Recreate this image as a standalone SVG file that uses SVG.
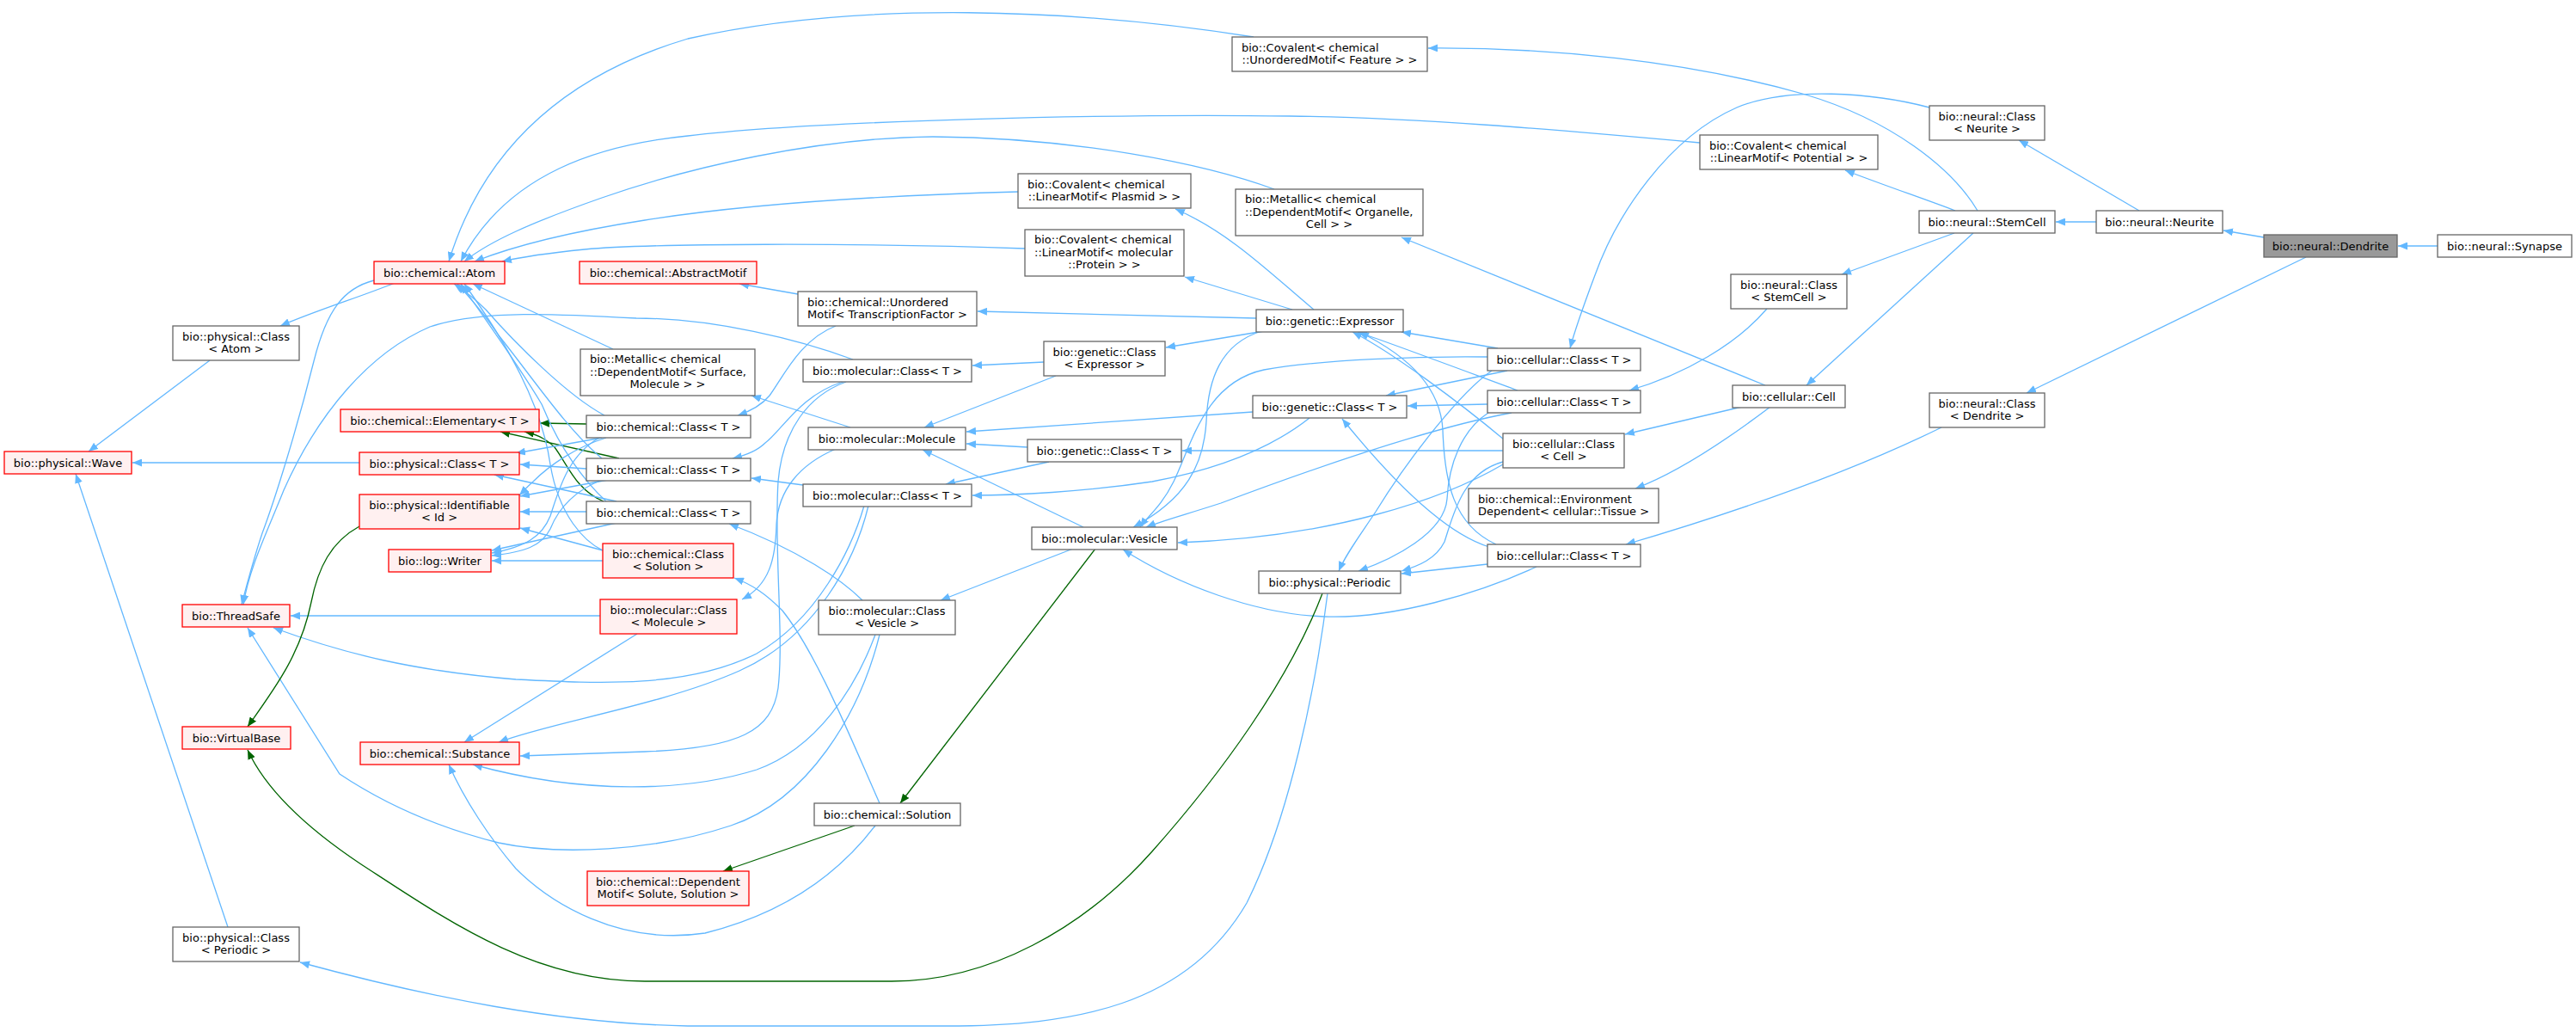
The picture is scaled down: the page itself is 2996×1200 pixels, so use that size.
<svg xmlns="http://www.w3.org/2000/svg" width="2996" height="1200" viewBox="0 0 2996 1200">
<style>
rect{stroke-width:1.3}
.n{fill:#ffffff;stroke:#666666}
.r{fill:#fff0f0;stroke:#ff0000}
.h{fill:#999999;stroke:#666666}
text{font-family:"DejaVu Sans","Liberation Sans",sans-serif;font-size:13px;fill:#000000;text-anchor:middle}
text.l{text-anchor:start}
.e{fill:none;stroke:#63b8ff;stroke-width:1.3;marker-end:url(#ab)}
.g{fill:none;stroke:#006400;stroke-width:1.3;marker-end:url(#ag)}
</style>
<defs>
<marker id="ab" viewBox="0 0 11 9" refX="11" refY="4.5" markerWidth="11" markerHeight="9" orient="auto" markerUnits="userSpaceOnUse"><path d="M0,0L11,4.5L0,9z" fill="#63b8ff"/></marker>
<marker id="ag" viewBox="0 0 11 9" refX="11" refY="4.5" markerWidth="11" markerHeight="9" orient="auto" markerUnits="userSpaceOnUse"><path d="M0,0L11,4.5L0,9z" fill="#006400"/></marker>
</defs>
<rect x="0" y="0" width="2996" height="1200" fill="#ffffff"/>
<g id="edges">
<path class="e" d="M2835,286L2789,286"/>
<path class="e" d="M2633,276L2586,268"/>
<path class="e" d="M2682,299L2357,457"/>
<path class="e" d="M2438,258L2391,258"/>
<path class="e" d="M2488,245L2348,163"/>
<path class="e" d="M2274,245C2240,232 2190,215 2146,198"/>
<path class="e" d="M2300,245C2270,195 2200,140 2100,110C1960,70 1800,55 1661,56"/>
<path class="e" d="M2273,271L2142,319"/>
<path class="e" d="M2295,271L2101,448"/>
<path class="e" d="M2244,125C2180,108 2080,100 2020,125C1940,160 1880,250 1855,320C1840,360 1830,390 1826,405"/>
<path class="e" d="M2055,359C2020,400 1960,435 1895,454"/>
<path class="e" d="M2258,497C2150,550 2010,598 1891,633"/>
<path class="e" d="M2053,448L1630,276"/>
<path class="e" d="M2026,473L1890,505"/>
<path class="e" d="M2059,473C2010,510 1950,550 1902,568"/>
<path class="e" d="M1977,166C1800,150 1650,137 1500,135C1300,132 950,140 800,158C700,168 590,200 536,304"/>
<path class="e" d="M1458,43C1250,10 1000,0 800,45C650,90 560,180 522,304"/>
<path class="e" d="M1482,220C1400,190 1250,160 1085,159C950,160 800,195 700,230C620,258 570,280 540,304"/>
<path class="e" d="M1184,223C1000,228 850,240 750,256C660,270 600,285 552,304"/>
<path class="e" d="M1192,289C1000,282 750,283 680,290C640,294 610,298 584,304"/>
<path class="e" d="M1742,405L1630,386"/>
<path class="e" d="M1730,415C1650,414 1540,418 1470,430C1400,445 1385,520 1365,560C1350,590 1335,600 1326,613"/>
<path class="e" d="M1753,431L1612,460"/>
<path class="e" d="M1735,431C1700,455 1640,530 1600,595C1580,625 1565,645 1557,664"/>
<path class="e" d="M1765,454C1700,430 1620,400 1579,386"/>
<path class="e" d="M1758,480C1650,500 1500,555 1420,585C1380,598 1350,606 1333,613"/>
<path class="e" d="M1730,470L1637,472"/>
<path class="e" d="M1731,480C1700,500 1685,540 1683,580C1680,620 1620,650 1580,664"/>
<path class="e" d="M1749,511C1700,470 1620,410 1573,386"/>
<path class="e" d="M1748,540C1680,580 1550,625 1370,631"/>
<path class="e" d="M1748,524L1375,524"/>
<path class="e" d="M1748,537C1700,550 1690,600 1680,630C1670,650 1650,658 1630,664"/>
<path class="e" d="M1740,633C1690,610 1680,560 1678,500C1675,440 1620,405 1581,386"/>
<path class="e" d="M1787,659C1720,690 1620,720 1540,717C1460,714 1370,680 1306,639"/>
<path class="e" d="M1732,636C1680,620 1620,560 1561,487"/>
<path class="e" d="M1730,656L1630,667"/>
<path class="e" d="M1461,370L1137,362"/>
<path class="e" d="M1470,385L1356,404"/>
<path class="e" d="M1467,385C1420,400 1405,440 1403,490C1400,540 1380,580 1318,613"/>
<path class="e" d="M1528,360C1480,320 1430,270 1367,243"/>
<path class="e" d="M1503,360L1378,322"/>
<path class="e" d="M1457,479L1124,502"/>
<path class="e" d="M1523,486C1480,520 1420,545 1340,560C1260,572 1180,576 1131,576"/>
<path class="g" d="M1538,690C1500,790 1420,900 1340,990C1260,1080 1150,1141 1037,1141L750,1141C620,1141 520,1070 420,1005C360,965 310,920 288,872"/>
<path class="e" d="M1544,690C1530,800 1500,950 1450,1050C1380,1170 1250,1193 1100,1193L800,1193C650,1190 500,1160 349,1119"/>
<path class="e" d="M1214,421L1131,425"/>
<path class="e" d="M1228,437L1075,497"/>
<path class="e" d="M1195,520L1124,516"/>
<path class="e" d="M1220,537L1100,563"/>
<path class="e" d="M1260,613L1073,523"/>
<path class="e" d="M1248,638L1094,698"/>
<path class="g" d="M1274,638L1047,934"/>
<path class="e" d="M928,342L860,330"/>
<path class="e" d="M972,379C930,395 910,440 895,460C885,472 870,479 858,483"/>
<path class="e" d="M992,418C930,395 830,370 740,370C650,365 560,360 500,380C430,410 370,480 330,570C310,620 290,660 283,703"/>
<path class="e" d="M984,444C940,460 910,500 905,560C900,640 912,740 905,800C898,850 860,870 750,874C680,876 640,878 605,879"/>
<path class="e" d="M980,444C930,460 910,500 890,515C880,525 865,530 852,533"/>
<path class="e" d="M989,497L874,460"/>
<path class="e" d="M972,522C930,540 905,570 903,610C902,650 895,680 863,697"/>
<path class="e" d="M934,564L874,556"/>
<path class="e" d="M1005,588C990,640 950,720 880,760C800,800 700,795 600,790C480,780 400,760 318,730"/>
<path class="e" d="M1010,588C995,650 950,740 860,780C770,820 640,840 580,863"/>
<path class="e" d="M1003,698C980,675 930,640 848,609"/>
<path class="e" d="M1023,738C1000,830 940,930 850,960C760,990 650,995 580,980C500,960 440,930 395,900L288,730"/>
<path class="e" d="M1018,738C995,800 950,870 880,895C800,920 680,925 550,889"/>
<path class="e" d="M1023,934C990,860 950,760 910,710C890,690 875,680 854,672"/>
<path class="g" d="M994,960L841,1013"/>
<path class="e" d="M1018,960C980,1010 920,1060 820,1085C720,1100 640,1050 600,1010C570,975 540,930 522,889"/>
<path class="e" d="M713,406L550,330"/>
<path class="g" d="M682,493L628,492"/>
<path class="g" d="M720,533L582,502"/>
<path class="g" d="M702,583C670,570 660,540 645,520C635,510 625,505 610,502"/>
<path class="e" d="M700,509L600,527"/>
<path class="e" d="M682,545L605,540"/>
<path class="e" d="M717,583L575,552"/>
<path class="e" d="M705,509C670,520 640,540 620,560C612,567 608,572 604,576"/>
<path class="e" d="M707,558L605,577"/>
<path class="e" d="M682,595L605,595"/>
<path class="e" d="M697,509C660,530 650,570 640,600C630,625 610,636 572,643"/>
<path class="e" d="M700,558C670,570 650,590 640,615C630,635 610,642 572,646"/>
<path class="e" d="M717,608L572,640"/>
<path class="e" d="M703,483C660,460 600,400 565,360C550,345 540,338 528,330"/>
<path class="e" d="M700,533C660,500 620,440 580,390C560,360 545,345 532,330"/>
<path class="e" d="M705,583C680,560 650,520 630,470C600,420 570,380 536,330"/>
<path class="e" d="M701,640C680,630 650,600 640,540C630,470 590,400 540,330"/>
<path class="e" d="M701,640L605,614"/>
<path class="e" d="M701,652L572,652"/>
<path class="e" d="M698,716L338,716"/>
<path class="e" d="M741,737L540,863"/>
<path class="e" d="M459,329C420,345 370,360 326,379"/>
<path class="e" d="M435,326C400,335 380,360 365,420C345,500 320,580 305,620C295,650 287,680 281,703"/>
<path class="g" d="M418,612C385,630 370,660 362,700C350,760 320,800 288,845"/>
<path class="e" d="M244,419L103,525"/>
<path class="e" d="M418,538L154,538"/>
<path class="e" d="M265,1078L88,551"/>
</g>
<g id="wave"><rect class="r" x="5" y="525" width="148" height="26"/><text x="79" y="542.5">bio::physical::Wave</text></g>
<g id="classAtom"><rect class="n" x="201" y="379" width="147" height="40"/><text x="274.5" y="395.5">bio::physical::Class</text><text x="274.5" y="410">&lt; Atom &gt;</text></g>
<g id="threadSafe"><rect class="r" x="212" y="703" width="125" height="26"/><text x="274.5" y="720.5">bio::ThreadSafe</text></g>
<g id="virtualBase"><rect class="r" x="212" y="845" width="126" height="26"/><text x="275" y="862.5">bio::VirtualBase</text></g>
<g id="classPeriodic"><rect class="n" x="201" y="1078" width="147" height="40"/><text x="274.5" y="1094.5">bio::physical::Class</text><text x="274.5" y="1109">&lt; Periodic &gt;</text></g>
<g id="atom"><rect class="r" x="435" y="304" width="152" height="26"/><text x="511" y="321.5">bio::chemical::Atom</text></g>
<g id="elementary"><rect class="r" x="396" y="476" width="231" height="26"/><text x="511.5" y="493.5">bio::chemical::Elementary&lt; T &gt;</text></g>
<g id="physClass"><rect class="r" x="418" y="526" width="186" height="26"/><text x="511" y="543.5">bio::physical::Class&lt; T &gt;</text></g>
<g id="identifiable"><rect class="r" x="418" y="575" width="186" height="40"/><text x="511" y="591.5">bio::physical::Identifiable</text><text x="511" y="606">&lt; Id &gt;</text></g>
<g id="writer"><rect class="r" x="452" y="639" width="119" height="26"/><text x="511.5" y="656.5">bio::log::Writer</text></g>
<g id="substance"><rect class="r" x="419" y="863" width="185" height="26"/><text x="511.5" y="880.5">bio::chemical::Substance</text></g>
<g id="abstractMotif"><rect class="r" x="674" y="304" width="206" height="26"/><text x="777" y="321.5">bio::chemical::AbstractMotif</text></g>
<g id="metallicSurface"><rect class="n" x="675" y="406" width="203" height="54"/><text class="l" x="686" y="422">bio::Metallic&lt; chemical</text><text class="l" x="686" y="436.5">::DependentMotif&lt; Surface,</text><text x="776.5" y="451">Molecule &gt; &gt;</text></g>
<g id="chemClassA"><rect class="n" x="682" y="483" width="191" height="26"/><text x="777.5" y="500.5">bio::chemical::Class&lt; T &gt;</text></g>
<g id="chemClassB"><rect class="n" x="682" y="533" width="191" height="26"/><text x="777.5" y="550.5">bio::chemical::Class&lt; T &gt;</text></g>
<g id="chemClassC"><rect class="n" x="682" y="583" width="191" height="26"/><text x="777.5" y="600.5">bio::chemical::Class&lt; T &gt;</text></g>
<g id="chemClassSolution"><rect class="r" x="701" y="632" width="152" height="40"/><text x="777" y="648.5">bio::chemical::Class</text><text x="777" y="663">&lt; Solution &gt;</text></g>
<g id="molClassMolecule"><rect class="r" x="698" y="697" width="159" height="40"/><text x="777.5" y="713.5">bio::molecular::Class</text><text x="777.5" y="728">&lt; Molecule &gt;</text></g>
<g id="dependentMotif"><rect class="r" x="683" y="1013" width="188" height="40"/><text class="l" x="693" y="1029.5">bio::chemical::Dependent</text><text x="777" y="1044">Motif&lt; Solute, Solution &gt;</text></g>
<g id="unorderedMotif"><rect class="n" x="928" y="339" width="208" height="40"/><text class="l" x="939" y="355.5">bio::chemical::Unordered</text><text x="1032" y="370">Motif&lt; TranscriptionFactor &gt;</text></g>
<g id="molClassA"><rect class="n" x="934" y="418" width="196" height="26"/><text x="1032" y="435.5">bio::molecular::Class&lt; T &gt;</text></g>
<g id="molecule"><rect class="n" x="940" y="497" width="183" height="26"/><text x="1031.5" y="514.5">bio::molecular::Molecule</text></g>
<g id="molClassB"><rect class="n" x="934" y="563" width="196" height="26"/><text x="1032" y="580.5">bio::molecular::Class&lt; T &gt;</text></g>
<g id="molClassVesicle"><rect class="n" x="952" y="698" width="159" height="40"/><text x="1031.5" y="714.5">bio::molecular::Class</text><text x="1031.5" y="729">&lt; Vesicle &gt;</text></g>
<g id="solution"><rect class="n" x="947" y="934" width="170" height="26"/><text x="1032" y="951.5">bio::chemical::Solution</text></g>
<g id="covalentPlasmid"><rect class="n" x="1184" y="202" width="201" height="40"/><text class="l" x="1195" y="218.5">bio::Covalent&lt; chemical</text><text x="1284.5" y="233">::LinearMotif&lt; Plasmid &gt; &gt;</text></g>
<g id="covalentProtein"><rect class="n" x="1192" y="267" width="185" height="54"/><text class="l" x="1203" y="283">bio::Covalent&lt; chemical</text><text class="l" x="1203" y="297.5">::LinearMotif&lt; molecular</text><text x="1284.5" y="312">::Protein &gt; &gt;</text></g>
<g id="geneticClassExpressor"><rect class="n" x="1214" y="397" width="141" height="40"/><text x="1284.5" y="413.5">bio::genetic::Class</text><text x="1284.5" y="428">&lt; Expressor &gt;</text></g>
<g id="geneticClassB"><rect class="n" x="1195" y="511" width="179" height="26"/><text x="1284.5" y="528.5">bio::genetic::Class&lt; T &gt;</text></g>
<g id="vesicle"><rect class="n" x="1200" y="613" width="169" height="26"/><text x="1284.5" y="630.5">bio::molecular::Vesicle</text></g>
<g id="covalentFeature"><rect class="n" x="1433" y="43" width="227" height="40"/><text class="l" x="1444" y="59.5">bio::Covalent&lt; chemical</text><text x="1546.5" y="74">::UnorderedMotif&lt; Feature &gt; &gt;</text></g>
<g id="metallicOrganelle"><rect class="n" x="1437" y="220" width="218" height="54"/><text class="l" x="1448" y="236">bio::Metallic&lt; chemical</text><text class="l" x="1448" y="250.5">::DependentMotif&lt; Organelle,</text><text x="1546" y="265">Cell &gt; &gt;</text></g>
<g id="expressor"><rect class="n" x="1461" y="360" width="171" height="26"/><text x="1546.5" y="377.5">bio::genetic::Expressor</text></g>
<g id="geneticClassA"><rect class="n" x="1457" y="460" width="179" height="26"/><text x="1546.5" y="477.5">bio::genetic::Class&lt; T &gt;</text></g>
<g id="periodic"><rect class="n" x="1464" y="664" width="165" height="26"/><text x="1546.5" y="681.5">bio::physical::Periodic</text></g>
<g id="cellularClassA"><rect class="n" x="1730" y="405" width="178" height="26"/><text x="1819" y="422.5">bio::cellular::Class&lt; T &gt;</text></g>
<g id="cellularClassB"><rect class="n" x="1730" y="454" width="178" height="26"/><text x="1819" y="471.5">bio::cellular::Class&lt; T &gt;</text></g>
<g id="cellularClassCell"><rect class="n" x="1748" y="504" width="141" height="40"/><text x="1818.5" y="520.5">bio::cellular::Class</text><text x="1818.5" y="535">&lt; Cell &gt;</text></g>
<g id="environmentDependent"><rect class="n" x="1708" y="568" width="221" height="40"/><text class="l" x="1719" y="584.5">bio::chemical::Environment</text><text x="1818.5" y="599">Dependent&lt; cellular::Tissue &gt;</text></g>
<g id="cellularClassC"><rect class="n" x="1730" y="633" width="178" height="26"/><text x="1819" y="650.5">bio::cellular::Class&lt; T &gt;</text></g>
<g id="covalentPotential"><rect class="n" x="1977" y="157" width="207" height="40"/><text class="l" x="1988" y="173.5">bio::Covalent&lt; chemical</text><text x="2080.5" y="188">::LinearMotif&lt; Potential &gt; &gt;</text></g>
<g id="neuralClassStemCell"><rect class="n" x="2013" y="319" width="135" height="40"/><text x="2080.5" y="335.5">bio::neural::Class</text><text x="2080.5" y="350">&lt; StemCell &gt;</text></g>
<g id="cell"><rect class="n" x="2015" y="448" width="131" height="26"/><text x="2080.5" y="465.5">bio::cellular::Cell</text></g>
<g id="neuralClassNeurite"><rect class="n" x="2244" y="123" width="134" height="40"/><text x="2311" y="139.5">bio::neural::Class</text><text x="2311" y="154">&lt; Neurite &gt;</text></g>
<g id="stemCell"><rect class="n" x="2232" y="245" width="158" height="26"/><text x="2311" y="262.5">bio::neural::StemCell</text></g>
<g id="neuralClassDendrite"><rect class="n" x="2244" y="457" width="134" height="40"/><text x="2311" y="473.5">bio::neural::Class</text><text x="2311" y="488">&lt; Dendrite &gt;</text></g>
<g id="neurite"><rect class="n" x="2438" y="245" width="147" height="26"/><text x="2511.5" y="262.5">bio::neural::Neurite</text></g>
<g id="dendrite"><rect class="h" x="2633" y="273" width="155" height="26"/><text x="2710.5" y="290.5">bio::neural::Dendrite</text></g>
<g id="synapse"><rect class="n" x="2835" y="273" width="156" height="26"/><text x="2913" y="290.5">bio::neural::Synapse</text></g>
</svg>
